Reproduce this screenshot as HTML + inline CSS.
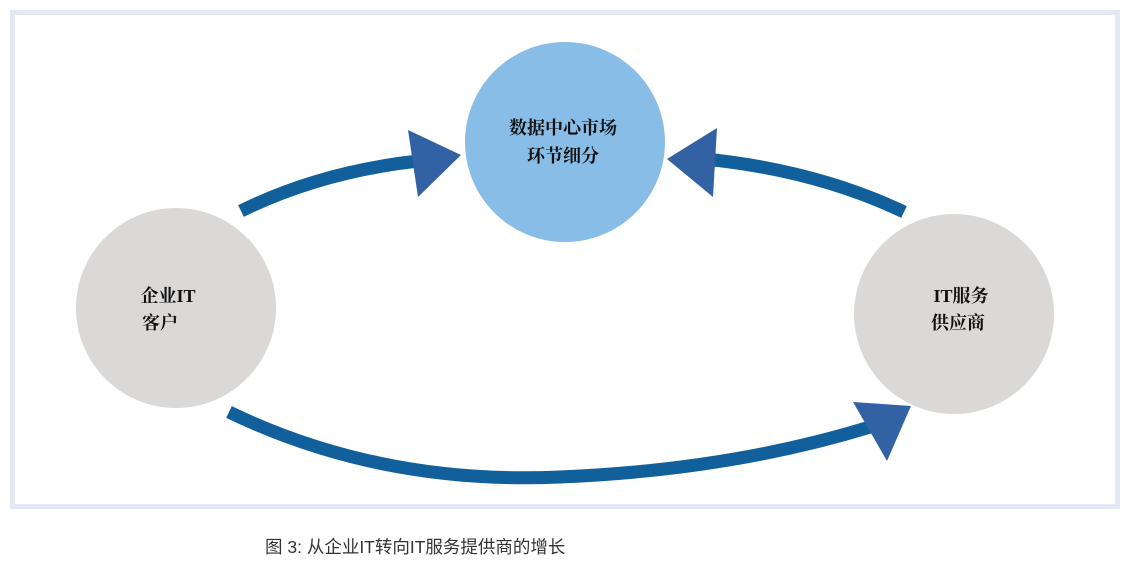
<!DOCTYPE html>
<html><head><meta charset="utf-8"><style>
body{margin:0;width:1144px;height:562px;background:#fff;overflow:hidden;font-family:"Liberation Sans","Noto Sans CJK SC",sans-serif}
</style></head><body>
<svg width="1144" height="562" style="position:absolute;left:0;top:0">
<rect x="12.5" y="12.5" width="1105" height="494" fill="#fff" stroke="#e2e9f3" stroke-width="5"/>
<circle cx="176" cy="308" r="100" fill="#dad9d8"/>
<circle cx="565" cy="142" r="100" fill="#88bde7"/>
<circle cx="954" cy="314" r="100" fill="#dad9d8"/>
<g fill="none" stroke="#11609b" stroke-width="13">
<path d="M241 211 Q320 172 418 161"/>
<path d="M904 212 Q820 172 714 160"/>
<path d="M229 412 Q380 485 560 477 Q730 470 870 427"/>
</g>
<g fill="#3262a4">
<polygon points="408,130 461,155 418,197"/>
<polygon points="717,128 667,159 713,197"/>
<polygon points="853,402 911,406 887,461"/>
</g>
<g font-weight="bold" font-size="18" fill="#111" text-anchor="middle" font-family="Liberation Serif,Noto Serif CJK SC,serif">
<text x="563" y="134">数据中心市场</text>
<text x="563" y="162">环节细分</text>
<text x="168" y="302">企业IT</text>
<text x="160" y="329">客户</text>
<text x="961" y="302">IT服务</text>
<text x="958" y="329">供应商</text>
</g>
<text x="265" y="553" font-size="17.5" fill="#333" font-family="Liberation Sans,Noto Sans CJK SC,sans-serif">图 3: 从企业IT转向IT服务提供商的增长</text>
</svg>
</body></html>
